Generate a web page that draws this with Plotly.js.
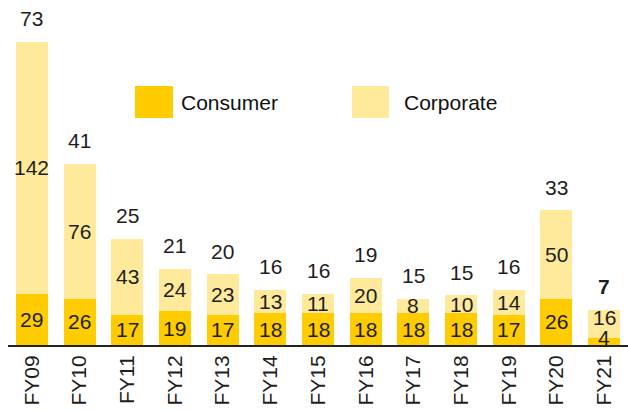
<!DOCTYPE html>
<html>
<head>
<meta charset="utf-8">
<script src="https://cdn.plot.ly/plotly-3.0.1.min.js"></script>
<style>html,body{margin:0;padding:0;background:#fff;}#chart{width:628px;height:411px;}</style>
</head>
<body>
<div id="chart"></div>
<script>
const categories = ["FY09","FY10","FY11","FY12","FY13","FY14","FY15","FY16","FY17","FY18","FY19","FY20","FY21"];
const consumer = [29,26,17,19,17,18,18,18,18,18,17,26,4];
const corporate = [142,76,43,24,23,13,11,20,8,10,14,50,16];
const topLabels = ["73","41","25","21","20","16","16","19","15","15","16","33","7"];

const FONT = "Liberation Sans, Arial, sans-serif";
const TXT = "#1e1e1e";
const FS = 21;
const C_CONS = "#FFCC00";
const C_CORP = "#FFE99A";

const traces = [
  {type:"bar", name:"Consumer", x:categories, y:consumer, marker:{color:C_CONS}, hoverinfo:"skip"},
  {type:"bar", name:"Corporate", x:categories, y:corporate, marker:{color:C_CORP}, hoverinfo:"skip"}
];

const annotations = [];
categories.forEach((c,i)=>{
  const last = i === categories.length-1;
  annotations.push({x:c, y:consumer[i]/2, xref:"x", yref:"y", text:String(consumer[i]), showarrow:false,
    font:{family:FONT,size:FS,color:TXT}, yshift: last ? 4 : 0});
  annotations.push({x:c, y:consumer[i]+corporate[i]/2, xref:"x", yref:"y", text:String(corporate[i]), showarrow:false,
    font:{family:FONT,size:FS,color:TXT}, yshift: last ? 6 : 0});
  annotations.push({x:c, y:consumer[i]+corporate[i], xref:"x", yref:"y",
    text: last ? "<b>"+topLabels[i]+"</b>" : topLabels[i], showarrow:false,
    font:{family:FONT,size:FS,color:TXT}, yshift:23});
});
annotations.push({xref:"paper", yref:"paper", x:0.2758, y:0.7043, xanchor:"left", yanchor:"middle", showarrow:false,
  text:"Consumer", font:{family:FONT,size:FS,color:"#111"}});
annotations.push({xref:"paper", yref:"paper", x:0.6355, y:0.7043, xanchor:"left", yanchor:"middle", showarrow:false,
  text:"Corporate", font:{family:FONT,size:FS,color:"#111"}});

const shapes = [
  {type:"rect", xref:"paper", yref:"paper", x0:0.2048, x1:0.2661, y0:0.658, y1:0.7507, fillcolor:C_CONS, line:{width:0}},
  {type:"rect", xref:"paper", yref:"paper", x0:0.5548, x1:0.6145, y0:0.658, y1:0.7507, fillcolor:C_CORP, line:{width:0}}
];

const layout = {
  width:628, height:411,
  margin:{l:8, r:0, t:0, b:66},
  paper_bgcolor:"#fff", plot_bgcolor:"#fff",
  barmode:"stack", bargap:0.33,
  showlegend:false,
  font:{family:FONT, size:FS, color:TXT},
  xaxis:{type:"category", range:[-0.5,12.5], showline:true, linecolor:"#222", linewidth:2,
    ticks:"", tickangle:-90, tickfont:{family:FONT,size:FS,color:TXT}, showgrid:false, zeroline:false, fixedrange:true},
  yaxis:{range:[0,194.4], visible:false, showgrid:false, zeroline:false, fixedrange:true},
  annotations:annotations,
  shapes:shapes
};

Plotly.newPlot("chart", traces, layout, {displayModeBar:false, staticPlot:true});
</script>
</body>
</html>
